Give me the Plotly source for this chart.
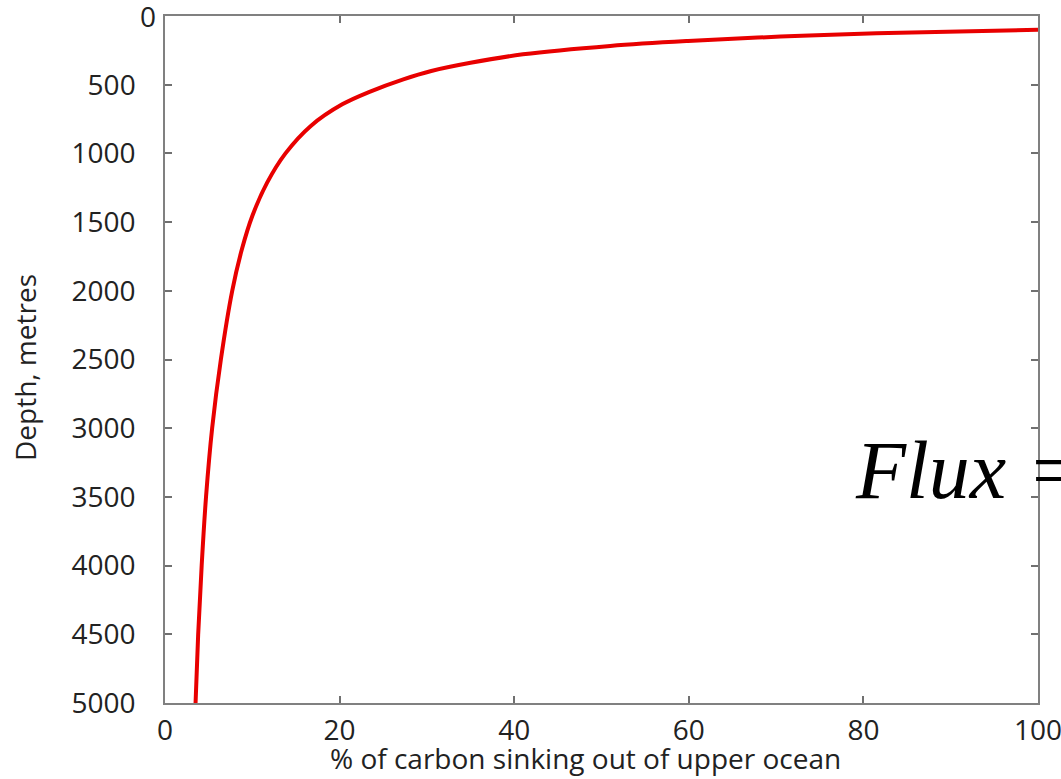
import plotly.graph_objects as go

# Values
depth_m = [100, 126, 150, 182, 218, 279, 340, 400, 461, 550, 643, 800, 1000,
           1213, 1456, 1700, 2000, 2500, 3000, 3500, 4000, 4500, 5000]
carbon_pct = [100, 81.5, 70.5, 59.9, 51.0, 41.0, 35.0, 30.5, 27.3, 23.5, 20.3,
              16.7, 13.8, 11.7, 10.0, 8.8, 7.7, 6.4, 5.4, 4.7, 4.2, 3.8, 3.5]

x_ticks = [0, 20, 40, 60, 80, 100]
y_ticks = [500, 1000, 1500, 2000, 2500, 3000, 3500, 4000, 4500, 5000]
y_top_label = "0"

W, H = 1061, 779
L, R, T, B = 165, 23, 16, 76
PW, PH = W - L - R, H - T - B

FONT = "Open Sans, Noto Sans, sans-serif"

fig = go.Figure()
fig.add_trace(go.Scatter(
    x=carbon_pct, y=depth_m, mode="lines",
    line=dict(color="rgb(232,0,0)", width=4, shape="spline", smoothing=1.0),
    showlegend=False, hoverinfo="skip",
))

tickfont = dict(family=FONT, size=28, color="#222")
axis_common = dict(
    showgrid=False, zeroline=False,
    showline=True, linecolor="#808080", linewidth=1.5,
    mirror="ticks", ticks="inside", ticklen=7, tickwidth=1.5, tickcolor="#707070",
    tickfont=tickfont, ticklabeloverflow="allow",
)

fig.update_xaxes(
    range=[0, 100], tickvals=x_ticks, ticktext=[str(v) for v in x_ticks],
    ticklabelstandoff=2,
    **axis_common,
)
fig.update_yaxes(
    range=[5000, 0], tickvals=y_ticks, ticktext=[str(v) for v in y_ticks],
    ticklabelstandoff=22,
    **axis_common,
)

# top-of-axis "0" label (sits closer to the axis in the reference)
fig.add_annotation(
    text=y_top_label, xref="paper", yref="y", x=-(L - 158) / PW, y=0,
    xanchor="right", yanchor="middle", showarrow=False,
    font=dict(family=FONT, size=28, color="#222"),
)
fig.add_annotation(
    text="% of carbon sinking out of upper ocean",
    xref="paper", yref="paper", x=(585 - L) / PW, y=-(758 - (H - B)) / PH,
    xanchor="center", yanchor="middle", showarrow=False,
    font=dict(family=FONT, size=28, color="#222"),
)
fig.add_annotation(
    text="Depth, metres",
    xref="paper", yref="paper", x=-(L - 25) / PW, y=((H - B) - 368) / PH,
    xanchor="center", yanchor="middle", showarrow=False, textangle=-90,
    font=dict(family=FONT, size=28, color="#222"),
)
fig.add_annotation(
    text="<i>Flux =</i>",
    xref="paper", yref="paper", x=(853 - L) / PW, y=((H - B) - 470) / PH,
    xanchor="left", yanchor="middle", showarrow=False,
    font=dict(family="Liberation Serif, Times New Roman, serif", size=82, color="#000"),
)

fig.update_layout(
    width=W, height=H,
    margin=dict(l=L, r=R, t=T, b=B, autoexpand=False),
    paper_bgcolor="white", plot_bgcolor="white",
)

fig.write_html("out.html")
